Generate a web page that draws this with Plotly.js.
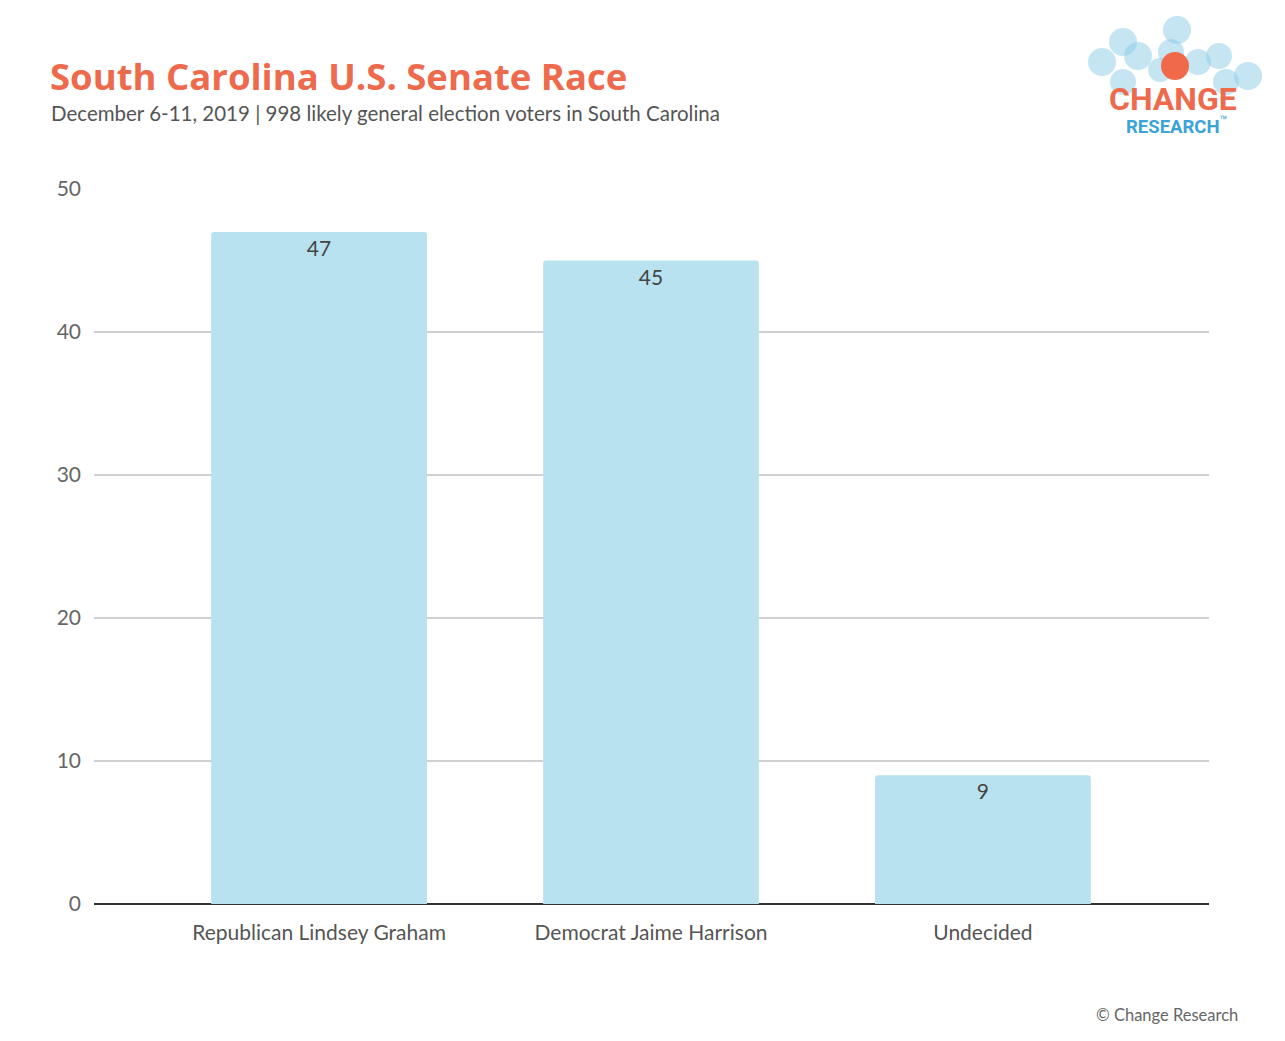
<!DOCTYPE html>
<html>
<head>
<meta charset="utf-8">
<script src="https://cdn.plot.ly/plotly-3.0.1.min.js"></script>
<style>
  html, body { margin: 0; padding: 0; background: #fff; }
  #grafico { width: 1285px; height: 1041px; }
</style>
</head>
<body>
<div id="grafico"></div>
<script>
// dados da pesquisa
const candidatos = ['Republican Lindsey Graham', 'Democrat Jaime Harrison', 'Undecided'];
const percentuais = [47, 45, 9];
const ticksY = [0, 10, 20, 30, 40, 50];

const titulo = 'South Carolina U.S. Senate Race';
const subtitulo = 'December 6-11, 2019 | 998 likely general election voters in South Carolina';
const rodape = '\u00A9 Change Research';

// margens em pixels (area do grafico)
const margem = {l: 94, r: 76, t: 189, b: 137};
const larguraPlot = 1285 - margem.l - margem.r;
const alturaPlot = 1041 - margem.t - margem.b;

function papelX(px){
	return (px - margem.l) / larguraPlot;
}

function papelY(py){
	return (1041 - margem.b - py) / alturaPlot;
}

// bolinhas do logo (centro x, centro y, raio)
const bolinhas = [
	[1177, 30, 14], [1123, 42, 14], [1102, 62, 14], [1138, 56, 14],
	[1171, 52, 13], [1198, 62, 13], [1219, 56, 13], [1248, 76, 14],
	[1123, 82, 13], [1226, 82, 13], [1160, 70, 12]
];

function circulo(cx, cy, r, cor){
	return {
		type: 'circle', xref: 'paper', yref: 'paper',
		xsizemode: 'pixel', ysizemode: 'pixel',
		xanchor: papelX(cx), yanchor: papelY(cy),
		x0: -r, x1: r, y0: -r, y1: r,
		fillcolor: cor, line: {width: 0}, layer: 'below'
	};
}

const formas = bolinhas.map(b => circulo(b[0], b[1], b[2], 'rgba(140, 204, 232, 0.5)'));
formas.push(circulo(1175, 66, 14, '#F06A4A'));

const trace = {
	type: 'bar',
	x: candidatos,
	y: percentuais,
	text: percentuais.map(String),
	textposition: 'inside',
	insidetextanchor: 'end',
	textangle: 0,
	textfont: {family: 'Lato, sans-serif', size: 21, color: '#444'},
	marker: {color: '#B9E2F0', line: {width: 0}},
	width: 0.65,
	hoverinfo: 'none'
};

const layout = {
	width: 1285,
	height: 1041,
	margin: margem,
	paper_bgcolor: '#fff',
	plot_bgcolor: '#fff',
	showlegend: false,
	barcornerradius: 3,
	font: {family: 'Lato, sans-serif', color: '#555'},
	xaxis: {
		type: 'category',
		range: [-0.678, 2.681],
		showgrid: false,
		zeroline: false,
		showline: false,
		ticks: '',
		ticklabelstandoff: 14,
		tickfont: {family: 'Lato, sans-serif', size: 21, color: '#555'},
		fixedrange: true
	},
	yaxis: {
		range: [0, 50],
		tickvals: ticksY,
		ticktext: ticksY.map(String),
		showgrid: true,
		gridcolor: '#d0d0d0',
		gridwidth: 1.5,
		zeroline: true,
		zerolinecolor: '#333',
		zerolinewidth: 2,
		showline: false,
		ticks: '',
		ticklabelstandoff: 12,
		tickfont: {family: 'Lato, sans-serif', size: 21, color: '#666'},
		fixedrange: true
	},
	shapes: formas,
	annotations: [
		{
			text: '<b>' + titulo + '</b>',
			xref: 'paper', yref: 'paper',
			x: papelX(48), y: papelY(76),
			xanchor: 'left', yanchor: 'middle', showarrow: false,
			font: {family: 'Open Sans, sans-serif', size: 36.5, color: '#EE6A4D'}
		},
		{
			text: subtitulo,
			xref: 'paper', yref: 'paper',
			x: papelX(49), y: papelY(113),
			xanchor: 'left', yanchor: 'middle', showarrow: false,
			font: {family: 'Lato, sans-serif', size: 20.5, color: '#555'}
		},
		{
			text: '<b>CHANGE</b>',
			xref: 'paper', yref: 'paper',
			x: papelX(1173), y: papelY(99),
			xanchor: 'center', yanchor: 'middle', showarrow: false,
			borderpad: 0,
			font: {family: 'Roboto, sans-serif', size: 32, color: '#EE6A4D'}
		},
		{
			text: '<b>RESEARCH</b><sup>\u2122</sup>',
			xref: 'paper', yref: 'paper',
			x: papelX(1177), y: papelY(125),
			xanchor: 'center', yanchor: 'middle', showarrow: false,
			borderpad: 0,
			font: {family: 'Roboto, sans-serif', size: 18.5, color: '#3BA3D6'}
		},
		{
			text: rodape,
			xref: 'paper', yref: 'paper',
			x: papelX(1240), y: papelY(1015),
			xanchor: 'right', yanchor: 'middle', showarrow: false,
			font: {family: 'Lato, sans-serif', size: 16.5, color: '#666'}
		}
	]
};

Plotly.newPlot('grafico', [trace], layout, {displayModeBar: false, staticPlot: true});
</script>
</body>
</html>
